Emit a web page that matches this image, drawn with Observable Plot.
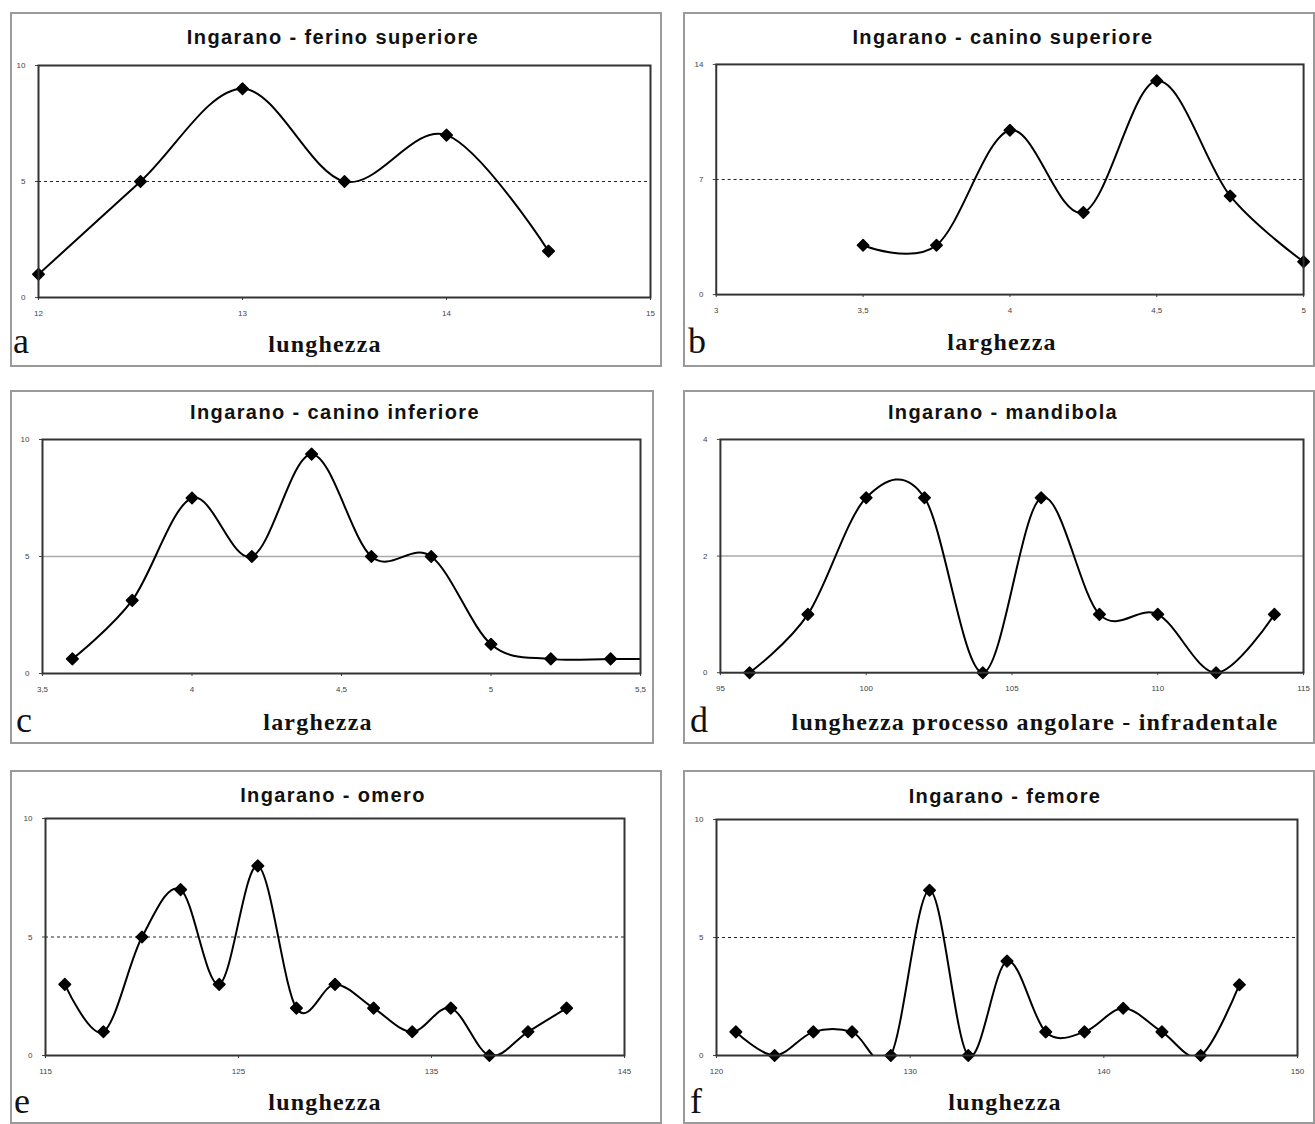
<!DOCTYPE html>
<html>
<head>
<meta charset="utf-8">
<script src="https://cdn.jsdelivr.net/npm/d3@7"></script>
<script src="https://cdn.jsdelivr.net/npm/@observablehq/plot@0.6"></script>
<style>
  html, body { margin: 0; padding: 0; background: #fff; }
  #page { position: relative; width: 1315px; height: 1124px; overflow: hidden; }
  .box { position: absolute; border: 2px solid #9a9a9a; box-sizing: border-box; background: #fff; }
  .title { position: absolute; font-family: "Liberation Sans", Arial, sans-serif; font-weight: bold; font-size: 20px; letter-spacing: 1.4px; color: #111; white-space: nowrap; transform: translate(-50%, -50%); }
  .xlab { position: absolute; font-family: "Liberation Serif", "Times New Roman", serif; font-weight: bold; font-size: 24px; letter-spacing: 1.2px; color: #111; white-space: nowrap; transform: translate(-50%, -50%); }
  .letter { position: absolute; font-family: "Liberation Serif", "Times New Roman", serif; font-size: 36px; color: #111; line-height: 1; }
  .plotwrap { position: absolute; }
</style>
</head>
<body>
<div id="page"></div>
<script>
// ---------- data ----------
const titleA = "Ingarano - ferino superiore";
const xA = [12, 12.5, 13, 13.5, 14, 14.5];
const yA = [1, 5, 9, 5, 7, 2];
const xTicksA = [12, 13, 14, 15];
const yTicksA = [0, 5, 10];
const xLabelA = "lunghezza";

const titleB = "Ingarano - canino superiore";
const xB = [3.5, 3.75, 4, 4.25, 4.5, 4.75, 5];
const yB = [3, 3, 10, 5, 13, 6, 2];
const xTicksB = [3, 3.5, 4, 4.5, 5];
const yTicksB = [0, 7, 14];
const xLabelB = "larghezza";

const titleC = "Ingarano - canino inferiore";
const xC = [3.6, 3.8, 4.0, 4.2, 4.4, 4.6, 4.8, 5.0, 5.2, 5.4];
const yC = [0.625, 3.125, 7.5, 5, 9.375, 5, 5, 1.25, 0.625, 0.625];
const xLineTailC = [5.6];
const yLineTailC = [0.625];
const xTicksC = [3.5, 4, 4.5, 5, 5.5];
const yTicksC = [0, 5, 10];
const xLabelC = "larghezza";

const titleD = "Ingarano - mandibola";
const xD = [96, 98, 100, 102, 104, 106, 108, 110, 112, 114];
const yD = [0, 1, 3, 3, 0, 3, 1, 1, 0, 1];
const xTicksD = [95, 100, 105, 110, 115];
const yTicksD = [0, 2, 4];
const xLabelD = "lunghezza processo angolare - infradentale";

const titleE = "Ingarano - omero";
const xE = [116, 118, 120, 122, 124, 126, 128, 130, 132, 134, 136, 138, 140, 142];
const yE = [3, 1, 5, 7, 3, 8, 2, 3, 2, 1, 2, 0, 1, 2];
const xTicksE = [115, 125, 135, 145];
const yTicksE = [0, 5, 10];
const xLabelE = "lunghezza";

const titleF = "Ingarano - femore";
const xF = [121, 123, 125, 127, 129, 131, 133, 135, 137, 139, 141, 143, 145, 147];
const yF = [1, 0, 1, 1, 0, 7, 0, 4, 1, 1, 2, 1, 0, 3];
const xTicksF = [120, 130, 140, 150];
const yTicksF = [0, 5, 10];
const xLabelF = "lunghezza";

const letters = ["a", "b", "c", "d", "e", "f"];

// ---------- layout (page pixels) ----------
const panels = [
  { title: titleA, xs: xA, ys: yA, xt: xTicksA, yt: yTicksA, xl: xLabelA, letter: letters[0],
    box: [10, 12, 652, 355], frame: [38, 65, 650, 297], titleAt: [333, 37], xlAt: [325, 344], letterAt: [13, 323], refStyle: "dash" },
  { title: titleB, xs: xB, ys: yB, xt: xTicksB, yt: yTicksB, xl: xLabelB, letter: letters[1],
    box: [683, 12, 632, 355], frame: [716, 64, 1308, 296], titleAt: [1003, 37], xlAt: [1002, 342], letterAt: [688, 323], refStyle: "dash" },
  { title: titleC, xs: xC, ys: yC, tx: xLineTailC, ty: yLineTailC, xt: xTicksC, yt: yTicksC, xl: xLabelC, letter: letters[2],
    box: [10, 390, 644, 354], frame: [42, 439, 640, 673], titleAt: [335, 412], xlAt: [318, 722], letterAt: [16, 702], refStyle: "gray" },
  { title: titleD, xs: xD, ys: yD, xt: xTicksD, yt: yTicksD, xl: xLabelD, letter: letters[3],
    box: [683, 390, 632, 354], frame: [720, 439, 1305, 673], titleAt: [1003, 412], xlAt: [1035, 722], letterAt: [690, 702], refStyle: "gray" },
  { title: titleE, xs: xE, ys: yE, xt: xTicksE, yt: yTicksE, xl: xLabelE, letter: letters[4],
    box: [10, 770, 652, 354], frame: [45, 818, 624, 1055], titleAt: [333, 795], xlAt: [325, 1102], letterAt: [14, 1083], refStyle: "dash" },
  { title: titleF, xs: xF, ys: yF, xt: xTicksF, yt: yTicksF, xl: xLabelF, letter: letters[5],
    box: [683, 770, 632, 354], frame: [716, 819, 1297, 1055], titleAt: [1005, 796], xlAt: [1005, 1102], letterAt: [690, 1083], refStyle: "dash" }
];

const page = document.getElementById("page");
const fmt = v => String(v).replace(".", ",");

panels.forEach(p => {
  const [bx, by, bw, bh] = p.box;
  const box = document.createElement("div");
  box.className = "box";
  Object.assign(box.style, { left: bx + "px", top: by + "px", width: bw + "px", height: bh + "px" });
  page.appendChild(box);

  const [fx0, fy0, fx1, fy1] = p.frame;
  const mL = 32, mR = 12, mT = 10, mB = 32;
  const W = (fx1 - fx0) + mL + mR;
  const H = (fy1 - fy0) + mT + mB;

  const data = p.xs.map((x, i) => ({ x, y: p.ys[i] }));
  const lineData = p.tx ? data.concat(p.tx.map((x, i) => ({ x, y: p.ty[i] }))) : data;
  const xDomain = [p.xt[0], p.xt[p.xt.length - 1]];
  const yDomain = [p.yt[0], p.yt[p.yt.length - 1]];
  const mid = p.yt[1];

  const chart = Plot.plot({
    width: W, height: H,
    marginLeft: mL, marginRight: mR, marginTop: mT, marginBottom: mB,
    style: { background: "transparent", fontFamily: "Liberation Sans, Arial, sans-serif", fontSize: "8px", color: "#444", overflow: "visible" },
    x: { domain: xDomain, ticks: p.xt, tickFormat: fmt, tickSize: 3, tickPadding: 10, label: null },
    y: { domain: yDomain, ticks: p.yt, tickFormat: fmt, tickSize: 3, tickPadding: 10, label: null },
    marks: [
      Plot.ruleY([mid], p.refStyle === "dash"
        ? { stroke: "#222", strokeWidth: 1, strokeDasharray: "3,3" }
        : { stroke: "#aaa", strokeWidth: 1.5 }),
      Plot.line(lineData, { x: "x", y: "y", curve: "cardinal", stroke: "#000", strokeWidth: 2, clip: true }),
      Plot.dot(data, { x: "x", y: "y", symbol: "diamond2", fill: "#000", stroke: "#000", strokeWidth: 1.5, strokeLinejoin: "round", r: 5.2 }),
      Plot.frame({ stroke: "#333", strokeWidth: 2, fill: "none" })
    ]
  });

  const wrap = document.createElement("div");
  wrap.className = "plotwrap";
  Object.assign(wrap.style, { left: (fx0 - mL) + "px", top: (fy0 - mT) + "px" });
  wrap.appendChild(chart);
  page.appendChild(wrap);

  const t = document.createElement("div");
  t.className = "title";
  t.textContent = p.title;
  Object.assign(t.style, { left: p.titleAt[0] + "px", top: p.titleAt[1] + "px" });
  page.appendChild(t);

  const xl = document.createElement("div");
  xl.className = "xlab";
  xl.textContent = p.xl;
  Object.assign(xl.style, { left: p.xlAt[0] + "px", top: p.xlAt[1] + "px" });
  page.appendChild(xl);

  const lt = document.createElement("div");
  lt.className = "letter";
  lt.textContent = p.letter;
  Object.assign(lt.style, { left: p.letterAt[0] + "px", top: p.letterAt[1] + "px" });
  page.appendChild(lt);
});
</script>
</body>
</html>
